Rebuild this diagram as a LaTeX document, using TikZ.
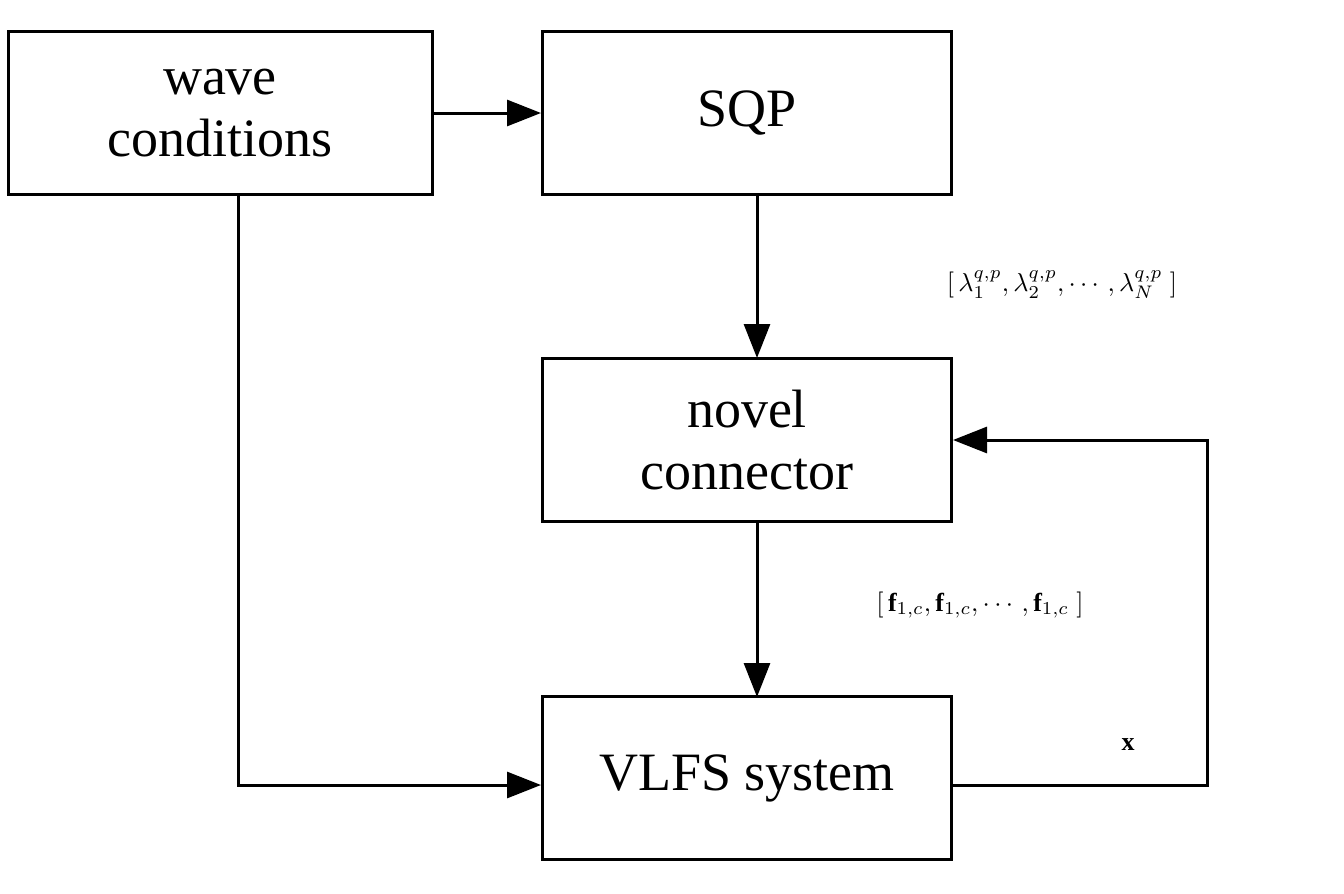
\documentclass[tikz,border=0pt]{standalone}
\usepackage{fix-cm}
\usepackage{amsmath}
\usepackage{fontspec}
\setmainfont{Liberation Serif}
\usetikzlibrary{arrows.meta}
\begin{document}
\begin{tikzpicture}[x=1pt,y=-1pt,
  box/.style={draw,line width=3pt,minimum width=424pt,minimum height=163pt,align=center,font=\fontsize{54}{62}\selectfont,inner sep=0pt},
  ar/.style={line width=3pt,-{Triangle[length=34pt,width=26pt]}},
  lbl/.style={inner sep=0pt,scale=2.6,transform shape}]
\useasboundingbox (0,0) rectangle (1344,894);
\node[box,minimum width=424pt] (w) at (220,113) {wave\\conditions};
\node[box,minimum width=409pt] (s) at (747,113) {SQP};
\node[box,minimum width=409pt] (n) at (747,440) {novel\\connector};
\node[box,minimum width=409pt] (v) at (747,778) {VLFS system};
\coordinate (c1) at (238,785);
\coordinate (c2) at (1207,785);
\coordinate (c3) at (1207,440);
\draw[ar] (w.east |- 0,113) -- (s.west |- 0,113);
\draw[ar] (757,195) -- (757,358);
\draw[ar] (757,522) -- (757,697);
\draw[ar] (238,195) -- (c1) -- (v.west |- c1);
\draw[ar] (v.east |- c2) -- (c2) -- (c3) -- (n.east);
\node[lbl] (l1) at (1062,285) {$\left[\,\lambda_1^{q,p}, \lambda_2^{q,p}, \cdots, \lambda_N^{q,p}\;\right]$};
\node[lbl] (l2) at (980,605) {$\left[\,\mathbf{f}_{1,c}, \mathbf{f}_{1,c}, \cdots, \mathbf{f}_{1,c}\;\right]$};
\node[lbl] (l3) at (1128,745) {$\mathbf{x}$};
\end{tikzpicture}
\end{document}
